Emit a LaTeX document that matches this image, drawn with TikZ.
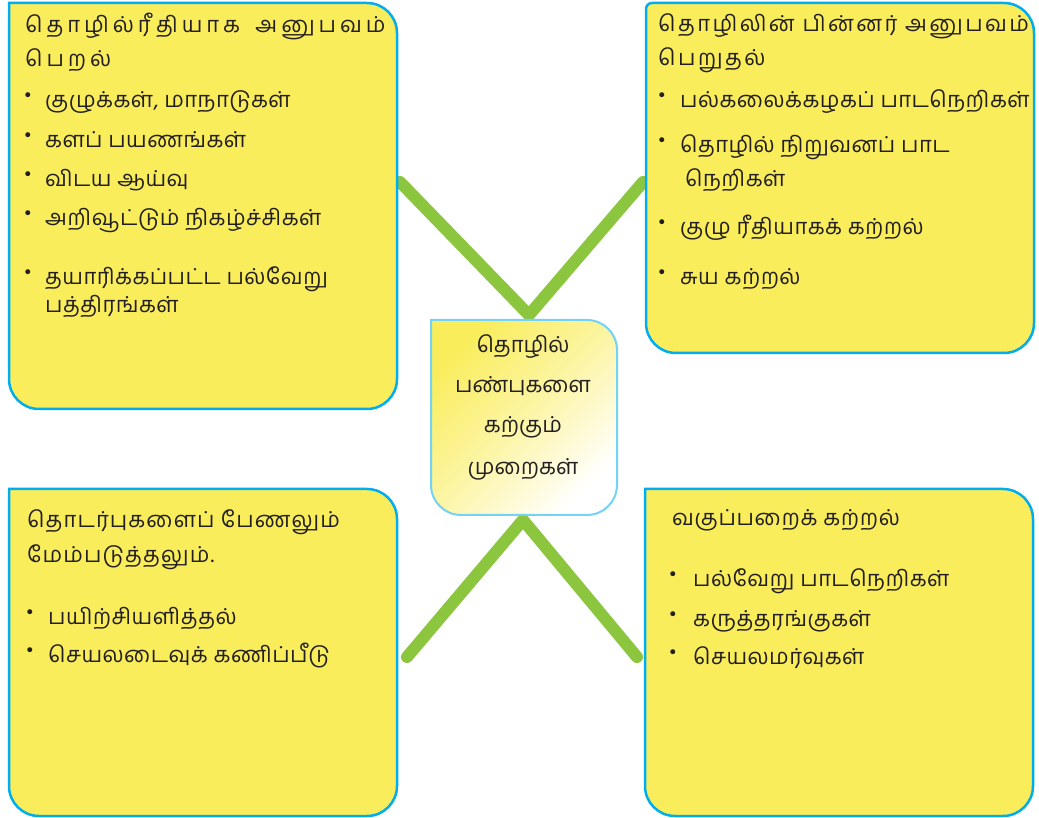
\documentclass[tikz,border=0pt]{standalone}
\usepackage{fontspec}
\newfontfamily\tamil[Script=Tamil]{Hind Madurai}
\newfontfamily\bulfont{DejaVu Sans}
\definecolor{boxyellow}{RGB}{249,237,92}
\definecolor{boxcyan}{RGB}{0,174,239}
\definecolor{vgreen}{RGB}{140,198,63}
\definecolor{txtc}{RGB}{35,31,32}
\begin{document}
\begin{tikzpicture}[x=1pt,y=1pt,
  tbox/.style={draw=boxcyan, line width=2.5pt, fill=boxyellow},
  vline/.style={draw=vgreen, line width=12pt, line cap=round, line join=round},
  txt/.style={inner sep=0pt, anchor=base west, text=txtc, font=\tamil\fontsize{22}{26}\selectfont\addfontfeature{LetterSpace=2}},
  sp/.style={font=\tamil\fontsize{22}{26}\selectfont\addfontfeature{LetterSpace=#1}},
  ctxt/.style={inner sep=0pt, anchor=base, text=txtc, font=\tamil\fontsize{22}{26}\selectfont},
  bul/.style={inner sep=0pt, anchor=center, text=txtc, font=\bulfont\fontsize{17}{19}\selectfont}]
\useasboundingbox (0,0) rectangle (1039,817);
% green V connectors
\coordinate (ua) at (400,635); \coordinate (uv) at (529,502); \coordinate (ub) at (643,635);
\coordinate (la) at (407,160); \coordinate (lv) at (523,297); \coordinate (lb) at (637,160);
\draw[vline] (ua) -- (uv) -- (ub);
\draw[vline] (la) -- (lv) -- (lb);
% boxes
\draw[tbox] (9,814) -- (367,814) arc[start angle=90,end angle=0,radius=30] -- (397,438) arc[start angle=0,end angle=-90,radius=30] -- (39,408) arc[start angle=270,end angle=180,radius=30] -- cycle;
\draw[tbox] (646,808) arc[start angle=180,end angle=90,radius=6] -- (1004,814) arc[start angle=90,end angle=0,radius=30] -- (1034,494) arc[start angle=0,end angle=-90,radius=30] -- (676,464) arc[start angle=270,end angle=180,radius=30] -- cycle;
\draw[tbox] (9,328) -- (367,328) arc[start angle=90,end angle=0,radius=30] -- (397,31) arc[start angle=0,end angle=-90,radius=30] -- (39,1) arc[start angle=270,end angle=180,radius=30] -- cycle;
\draw[tbox] (645,328) -- (1003,328) arc[start angle=90,end angle=0,radius=30] -- (1033,31) arc[start angle=0,end angle=-90,radius=30] -- (675,1) arc[start angle=270,end angle=180,radius=30] -- cycle;
\draw[draw=boxcyan!55, line width=2pt, top color=boxyellow, bottom color=white, middle color=boxyellow!55!white, shading angle=45]
  (431,497) -- (587,497) arc[start angle=90,end angle=0,radius=30] -- (617,332) arc[start angle=0,end angle=-90,radius=30] -- (461,302) arc[start angle=270,end angle=180,radius=30] -- cycle;
% centre
\node[ctxt] (c1) at (523,464) {தொழில்};
\node[ctxt] (c2) at (523,424) {பண்புகளை};
\node[ctxt] (c3) at (523,384) {கற்கும்};
\node[ctxt] (c4) at (523,342) {முறைகள்};
% top left
\node[txt,sp=18] (tlh1) at (25,784) {தொழில்ரீதியாக\hspace{6pt} அனுபவம்};
\node[txt,sp=18] (tlh2) at (25,750) {பெறல்};
\node[bul] (tld1) at (28,720) {•}; \node[txt] (tl1) at (45,709) {குழுக்கள், மாநாடுகள்};
\node[bul] (tld2) at (28,680) {•}; \node[txt] (tl2) at (45,669) {களப் பயணங்கள்};
\node[bul] (tld3) at (28,641) {•}; \node[txt] (tl3) at (45,630) {விடய ஆய்வு};
\node[bul] (tld4) at (28,602) {•}; \node[txt] (tl4) at (45,591) {அறிவூட்டும் நிகழ்ச்சிகள்};
\node[bul] (tld5) at (28,543) {•}; \node[txt] (tl5) at (45,532) {தயாரிக்கப்பட்ட பல்வேறு};
\node[txt] (tl6) at (45,504) {பத்திரங்கள்};
% top right
\node[txt,sp=11] (trh1) at (658,785) {தொழிலின் பின்னர் அனுபவம்};
\node[txt,sp=11] (trh2) at (658,751) {பெறுதல்};
\node[bul] (trd1) at (662,720) {•}; \node[txt] (tr1) at (680,709) {பல்கலைக்கழகப் பாடநெறிகள்};
\node[bul] (trd2) at (662,675) {•}; \node[txt] (tr2) at (680,664) {தொழில் நிறுவனப் பாட};
\node[txt] (tr3) at (685,630) {நெறிகள்};
\node[bul] (trd3) at (662,593) {•}; \node[txt] (tr4) at (680,582) {குழு ரீதியாகக் கற்றல்};
\node[bul] (trd4) at (662,543) {•}; \node[txt] (tr5) at (680,532) {சுய கற்றல்};
% bottom left
\node[txt,sp=5] (blh1) at (27,289) {தொடர்புகளைப் பேணலும்};
\node[txt,sp=5] (blh2) at (27,254) {மேம்படுத்தலும்.};
\node[bul] (bld1) at (30,203) {•}; \node[txt] (bl1) at (48,192) {பயிற்சியளித்தல்};
\node[bul] (bld2) at (30,165) {•}; \node[txt] (bl2) at (48,154) {செயலடைவுக் கணிப்பீடு};
% bottom right
\node[txt,sp=3] (brh1) at (672,291) {வகுப்பறைக் கற்றல்};
\node[bul] (brd1) at (673,241) {•}; \node[txt] (br1) at (693,230) {பல்வேறு பாடநெறிகள்};
\node[bul] (brd2) at (673,201) {•}; \node[txt] (br2) at (693,190) {கருத்தரங்குகள்};
\node[bul] (brd3) at (673,163) {•}; \node[txt] (br3) at (693,152) {செயலமர்வுகள்};
\end{tikzpicture}
\end{document}
